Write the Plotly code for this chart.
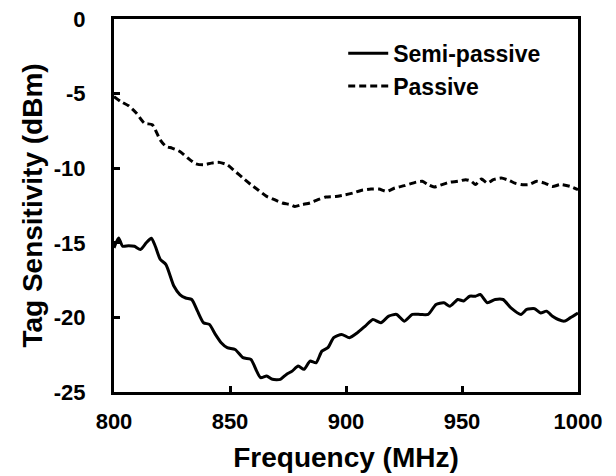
import plotly.graph_objects as go

semi_freq = [800, 802, 803.7, 806.3, 808.8, 811.4, 813.9, 816.1, 817.8, 819.9, 822.4, 825.8, 828.4, 830.9,
             833.5, 836, 838.6, 841.1, 843.7, 846.2, 848.8, 852.2, 855.6, 859, 861.5, 863.2, 865.8, 868.3,
             871.7, 874.3, 876.8, 879.4, 881.9, 884.5, 887.1, 889.6, 892.2, 894.7, 898.1, 901.5, 904.9,
             908.3, 911.6, 915, 918.4, 921.8, 925.2, 928.6, 932, 935.4, 938.8, 942.2, 944.8, 948.2, 950.7,
             953.3, 955.8, 957.9, 960.9, 964.3, 967.7, 971.1, 975.4, 977.9, 981.3, 983.9, 986.4, 989,
             991.5, 994.1, 996.6, 1000]
semi_vals = [-15.34, -14.67, -15.23, -15.19, -15.23, -15.45, -15.0, -14.7, -15.23, -16.1, -16.46, -17.9,
             -18.47, -18.7, -18.8, -19.58, -20.36, -20.47, -21.14, -21.7, -22.03, -22.15, -22.7, -22.81,
             -23.6, -24.04, -23.93, -24.15, -24.15, -23.82, -23.6, -23.26, -23.48, -22.93, -23.04, -22.26,
             -22.03, -21.36, -21.14, -21.36, -21.03, -20.58, -20.14, -20.36, -19.92, -19.8, -20.25, -19.8,
             -19.8, -19.8, -19.13, -19.02, -19.25, -18.8, -18.9, -18.58, -18.58, -18.47, -19.02, -18.8,
             -18.8, -19.36, -19.8, -19.47, -19.42, -19.7, -19.58, -19.92, -20.14, -20.25, -20.03, -19.7]

pass_freq = [800, 802.9, 806.3, 809.7, 813.1, 816.5, 819.9, 822.4, 825, 828.4, 831.8, 835.2, 838.6, 842,
             845.4, 848.8, 852.2, 855.6, 859, 862.4, 865.8, 869.2, 872.6, 876, 878, 881.1, 884.5, 887.9,
             891.3, 895.5, 899.7, 903.1, 906.5, 910.8, 914.2, 917.6, 921, 925.2, 930.3, 932.9, 935.4, 938,
             941.4, 944.8, 948.2, 951.6, 954.1, 955.8, 958.4, 960.9, 963.5, 966.9, 970.3, 972.8, 975.4,
             978.8, 982.2, 985.6, 989, 992.4, 996.6, 1000]
pass_vals = [-5.2, -5.53, -5.82, -6.31, -6.98, -7.09, -8.1, -8.54, -8.65, -8.88, -9.32, -9.7, -9.77, -9.66,
             -9.61, -9.77, -10.21, -10.66, -11.1, -11.49, -11.89, -12.11, -12.33, -12.44, -12.56, -12.44,
             -12.33, -12.11, -11.93, -11.89, -11.78, -11.66, -11.49, -11.4, -11.4, -11.56, -11.33, -11.17,
             -10.93, -10.88, -11.1, -11.26, -11.1, -10.93, -10.88, -10.77, -10.88, -11.1, -10.73, -11.0,
             -10.77, -10.66, -10.82, -11.0, -11.1, -11.1, -10.88, -11.0, -11.22, -11.1, -11.22, -11.44]

x_ticks = [800, 850, 900, 950, 1000]
y_ticks = [0, -5, -10, -15, -20, -25]

FONT = "Liberation Sans, Arial, sans-serif"

fig = go.Figure()
fig.add_trace(go.Scatter(x=semi_freq, y=semi_vals, mode="lines", name="<b>Semi-passive</b>",
                         line=dict(color="black", width=3, shape="spline", smoothing=0.6)))
fig.add_trace(go.Scatter(x=pass_freq, y=pass_vals, mode="lines", name="<b>Passive</b>",
                         line=dict(color="black", width=3, dash="7px,4px", shape="spline", smoothing=0.6)))

axis_common = dict(showline=True, linecolor="black", linewidth=3, mirror=True, showgrid=False,
                   zeroline=False, ticks="inside", ticklen=6, tickwidth=3, tickcolor="black",
                   automargin=False,
                   tickfont=dict(family=FONT, size=22, color="black"))

fig.update_xaxes(range=[800, 1000], tickvals=x_ticks, ticktext=[f"<b>{v}</b>" for v in x_ticks],
                 ticklabelstandoff=8,
                 title=dict(text="<b>Frequency (MHz)</b>", font=dict(family=FONT, size=28, color="black"),
                            standoff=14),
                 **axis_common)
fig.update_yaxes(range=[-25, 0], tickvals=y_ticks, ticktext=[f"<b>{v}</b>" for v in y_ticks],
                 ticklabelstandoff=21,
                 title=dict(text="<b>Tag Sensitivity (dBm)</b>", font=dict(family=FONT, size=28, color="black"),
                            standoff=4),
                 **axis_common)

fig.update_layout(
    width=616, height=476,
    margin=dict(l=114, r=38, t=19, b=84),
    paper_bgcolor="white", plot_bgcolor="white",
    showlegend=True,
    legend=dict(x=0.494, y=0.966, xanchor="left", yanchor="top", bgcolor="rgba(0,0,0,0)",
                font=dict(family=FONT, size=23, color="black"), itemwidth=40, tracegroupgap=4),
)

fig.write_html("out.html")
